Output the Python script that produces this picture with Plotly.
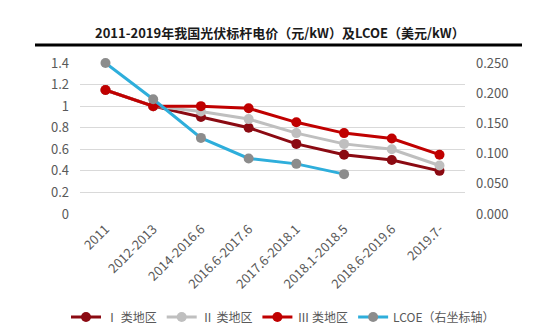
import plotly.graph_objects as go

categories = ["2011", "2012-2013", "2014-2016.6", "2016.6-2017.6", "2017.6-2018.1",
              "2018.1-2018.5", "2018.6-2019.6", "2019.7-"]
region_1 = [1.15, 1.0, 0.90, 0.80, 0.65, 0.55, 0.50, 0.40]
region_2 = [1.15, 1.0, 0.95, 0.88, 0.75, 0.65, 0.60, 0.45]
region_3 = [1.15, 1.0, 1.00, 0.98, 0.85, 0.75, 0.70, 0.55]
lcoe = [0.250, 0.190, 0.126, 0.092, 0.083, 0.066]

left_ticks = [0, 0.2, 0.4, 0.6, 0.8, 1.0, 1.2, 1.4]
left_labels = ["0", "0.2", "0.4", "0.6", "0.8", "1", "1.2", "1.4"]
right_ticks = [0, 0.05, 0.10, 0.15, 0.20, 0.25]
right_labels = ["0.000", "0.050", "0.100", "0.150", "0.200", "0.250"]

FONT = "Noto Sans CJK SC"
GRAY = "#595959"

# plot-area geometry in pixels (used for paper-relative placement)
PL, PR, PT, PB = 80, 465, 63, 214
PW, PH = PR - PL, PB - PT

fig = go.Figure()

def add_series(name, values, line_color, marker_color, yaxis="y"):
    fig.add_trace(go.Scatter(
        x=categories[:len(values)], y=values, name=name, yaxis=yaxis,
        mode="lines+markers",
        line=dict(color=line_color, width=3),
        marker=dict(color=marker_color, size=10),
        cliponaxis=False,
    ))

add_series("Ⅰ 类地区", region_1, "#8b0a12", "#8b0a12")
add_series("Ⅱ 类地区", region_2, "#bfbfbf", "#bfbfbf")
add_series("Ⅲ 类地区", region_3, "#c00000", "#c00000")
add_series("LCOE（右坐标轴）", lcoe, "#2eaedb", "#8c8c8c", yaxis="y2")

fig.update_layout(
    width=552, height=334,
    margin=dict(l=PL, r=552 - PR, t=PT, b=334 - PB, autoexpand=False),
    paper_bgcolor="white", plot_bgcolor="white",
    font=dict(family=FONT, size=12, color=GRAY),
    title=dict(text="<b>2011-2019年我国光伏标杆电价（元/kW）及LCOE（美元/kW）</b>",
               x=0.507, xanchor="center", y=1 - 33 / 334, yanchor="middle",
               font=dict(family=FONT, size=13, color="#1a1a1a")),
    xaxis=dict(type="category", categoryorder="array", categoryarray=categories,
               tickangle=-45, showgrid=False, showline=False, ticks="",
               ticklabelstandoff=4, tickfont=dict(size=13, color=GRAY)),
    yaxis=dict(range=[0, 1.4], tickvals=left_ticks, ticktext=left_labels,
               showgrid=True, gridcolor="#d9d9d9", gridwidth=1, zeroline=False,
               showline=False, ticks="", ticklabelstandoff=10,
               tickfont=dict(size=13, color=GRAY)),
    yaxis2=dict(range=[0, 0.25], tickvals=right_ticks, ticktext=right_labels,
                overlaying="y", side="right", showgrid=False, zeroline=False,
                showline=False, ticks="", ticklabelstandoff=10,
                tickfont=dict(size=13, color=GRAY)),
    legend=dict(orientation="h", x=(66 - PL) / PW, xanchor="left",
                y=(PB - 317) / PH, yanchor="middle",
                font=dict(size=12, color=GRAY), itemwidth=30,
                tracegroupgap=0, bgcolor="rgba(0,0,0,0)"),
    showlegend=True,
)

# heavy rule under the title
fig.add_shape(type="line", xref="paper", yref="paper",
              x0=(35 - PL) / PW, x1=(522 - PL) / PW,
              y0=(PB - 45) / PH, y1=(PB - 45) / PH,
              line=dict(color="black", width=3))

fig.write_html("out.html")
